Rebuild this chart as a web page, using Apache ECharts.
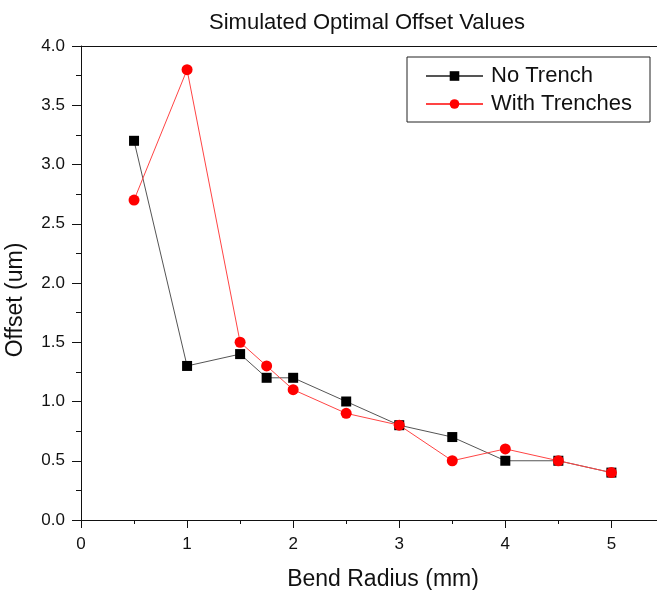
<!DOCTYPE html>
<html>
<head>
<meta charset="utf-8">
<script src="https://cdn.jsdelivr.net/npm/echarts@6/dist/echarts.min.js"></script>
<style>html,body{margin:0;padding:0;background:#fff}#c{width:657px;height:590px}</style>
</head>
<body>
<div id="c"></div>
<script>
const radius = [0.5, 1, 1.5, 1.75, 2, 2.5, 3, 3.5, 4, 4.5, 5];
const noTrench = [3.2, 1.3, 1.4, 1.2, 1.2, 1.0, 0.8, 0.7, 0.5, 0.5, 0.4];
const withTrenches = [2.7, 3.8, 1.5, 1.3, 1.1, 0.9, 0.8, 0.5, 0.6, 0.5, 0.4];
const seriesNames = ['No Trench', 'With Trenches'];
const xTicks = [0, 1, 2, 3, 4, 5];

const font = 'Liberation Sans, Arial, sans-serif';
const chart = echarts.init(document.getElementById('c'));
chart.setOption({
  animation: false,
  backgroundColor: '#fff',
  title: {
    text: 'Simulated Optimal Offset Values',
    left: 362, top: 7, textAlign: 'center',
    textStyle: {fontFamily: font, fontSize: 22, fontWeight: 'normal', color: '#111'}
  },
  legend: {
    orient: 'vertical', left: 407, top: 57,
    itemWidth: 57, itemHeight: 12, itemGap: 6,
    padding: [8, 18, 7, 18],
    borderColor: '#222', borderWidth: 1,
    textStyle: {fontFamily: font, fontSize: 22, lineHeight: 22, color: '#111', padding: [0, 0, 0, 3]},
    data: seriesNames
  },
  grid: {left: 81, right: 0, top: 46, bottom: 70, outerBoundsMode: 'none', containLabel: false},
  xAxis: [{
    type: 'value', min: 0, max: 5.43, interval: 1,
    name: 'Bend Radius (mm)', nameLocation: 'middle', nameGap: 48,
    nameTextStyle: {fontFamily: font, fontSize: 23, color: '#111', padding: [0, 0, 0, 28]},
    axisLine: {lineStyle: {color: '#111', width: 1}},
    axisTick: {length: 8, lineStyle: {color: '#111'}},
    minorTick: {show: true, splitNumber: 2, length: 4, lineStyle: {color: '#111'}},
    splitLine: {show: false},
    axisLabel: {fontFamily: font, fontSize: 17, color: '#111', margin: 16, showMaxLabel: false,
      formatter: v => xTicks.indexOf(v) >= 0 ? String(v) : ''}
  }, {
    type: 'value', position: 'top', min: 0, max: 5.43,
    axisLine: {show: true, onZero: false, lineStyle: {color: '#111', width: 1}},
    axisTick: {show: false}, axisLabel: {show: false}, splitLine: {show: false}
  }],
  yAxis: {
    type: 'value', min: 0, max: 4, interval: 0.5,
    name: 'Offset (um)', nameLocation: 'middle', nameGap: 54,
    nameTextStyle: {fontFamily: font, fontSize: 23, color: '#111', padding: [0, 34, 0, 0]},
    axisLine: {show: true, lineStyle: {color: '#111', width: 1}},
    axisTick: {show: true, length: 9, lineStyle: {color: '#111'}},
    minorTick: {show: true, splitNumber: 2, length: 5, lineStyle: {color: '#111'}},
    splitLine: {show: false},
    axisLabel: {fontFamily: font, fontSize: 17, color: '#111', margin: 16,
      formatter: v => v.toFixed(1)}
  },
  series: [{
    name: seriesNames[0], type: 'line',
    data: radius.map((x, i) => [x, noTrench[i]]),
    symbol: 'rect', symbolSize: 10,
    itemStyle: {color: '#000'},
    lineStyle: {color: '#555', width: 1}
  }, {
    name: seriesNames[1], type: 'line',
    data: radius.map((x, i) => [x, withTrenches[i]]),
    symbol: 'circle', symbolSize: 11,
    itemStyle: {color: '#ff0000'},
    lineStyle: {color: '#ff4444', width: 1}
  }]
});
</script>
</body>
</html>
